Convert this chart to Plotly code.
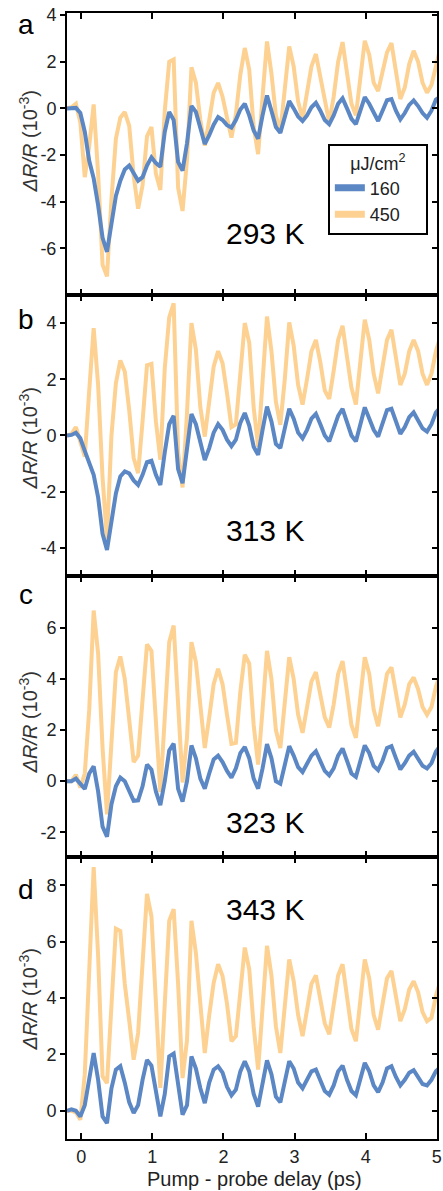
import plotly.graph_objects as go

# pump-probe delay grid (ps)
delay = [-0.2, -0.1375, -0.075, -0.0125, 0.05, 0.1125, 0.175, 0.2375, 0.3, 0.3625,
         0.425, 0.4875, 0.55, 0.6125, 0.675, 0.7375, 0.8, 0.8625, 0.925, 0.9875,
         1.05, 1.1125, 1.175, 1.2375, 1.3, 1.3625, 1.425, 1.4875, 1.55, 1.6125,
         1.675, 1.7375, 1.8, 1.8625, 1.925, 1.9875, 2.05, 2.1125, 2.175, 2.2375,
         2.3, 2.3625, 2.425, 2.4875, 2.55, 2.6125, 2.675, 2.7375, 2.8, 2.8625,
         2.925, 2.9875, 3.05, 3.1125, 3.175, 3.2375, 3.3, 3.3625, 3.425, 3.4875,
         3.55, 3.6125, 3.675, 3.7375, 3.8, 3.8625, 3.925, 3.9875, 4.05, 4.1125,
         4.175, 4.2375, 4.3, 4.3625, 4.425, 4.4875, 4.55, 4.6125, 4.675, 4.7375,
         4.8, 4.8625, 4.925, 4.9875, 5.05]

blue_293 = [0.0, 0.0, 0.02, -0.2, -1.0, -2.25, -3.0, -4.15, -5.55, -6.15,
            -4.9, -3.75, -3.1, -2.62, -2.45, -2.78, -3.1, -2.95, -2.45, -2.1,
            -2.35, -2.5, -1.0, -0.15, -0.5, -2.3, -2.67, -1.5, 0.1, -0.15,
            -0.85, -1.53, -1.15, -0.7, -0.37, -0.5, -0.72, -0.82, -0.5, -0.05,
            0.2, -0.3, -0.95, -1.3, -0.3, 0.55, -0.1, -0.8, -1.05, -0.3,
            0.31, 0.0, -0.35, -0.54, -0.3, 0.05, 0.24, -0.1, -0.5, -0.68,
            -0.3, 0.2, 0.43, 0.0, -0.45, -0.68, -0.1, 0.48, 0.2, -0.2,
            -0.54, -0.1, 0.35, 0.4, -0.1, -0.47, -0.2, 0.15, 0.34, 0.1,
            -0.2, -0.4, -0.1, 0.38, 0.5]
orange_293 = [0.0, 0.05, 0.2, -0.6, -2.95, -1.6, 0.17, -2.8, -6.7, -7.2,
              -3.9, -1.3, -0.4, -0.16, -0.75, -2.9, -4.3, -3.3, -1.2, -0.8,
              -2.8, -3.5, -0.1, 2.0, 2.1, -3.4, -4.4, -2.2, 1.76, 1.1,
              -0.5, -1.6, -0.5, 0.67, 1.09, 0.5, -0.4, -1.25, -0.25, 1.45,
              2.59, 1.66, -0.8, -1.96, 0.5, 2.87, 1.5, -0.3, -1.0, 0.8,
              2.66, 1.8, 0.3, -0.45, 0.6, 1.8, 2.33, 1.3, 0.2, -0.6,
              0.5, 2.0, 2.84, 1.5, 0.2, -0.3, 1.5, 2.9, 2.3, 1.1,
              0.74, 1.6, 2.4, 2.8, 1.6, 0.4, 0.9, 1.9, 2.47, 2.0,
              1.1, 0.67, 1.0, 1.9, 2.6]

blue_313 = [0.0, 0.02, 0.1, -0.1, -0.55, -0.98, -1.4, -2.2, -3.5, -4.07,
            -3.0, -2.06, -1.46, -1.28, -1.35, -1.6, -1.76, -1.4, -0.95, -0.9,
            -1.4, -1.76, -0.6, 0.4, 0.7, -1.2, -1.7, -0.5, 0.76, 0.4,
            -0.3, -0.87, -0.45, 0.1, 0.4, 0.2, -0.15, -0.38, -0.15, 0.45,
            0.8, 0.35, -0.4, -0.69, 0.2, 1.03, 0.5, -0.3, -0.45, 0.3,
            0.95, 0.6, 0.1, -0.1, 0.2, 0.6, 0.77, 0.4, 0.0, -0.21,
            0.2, 0.7, 0.95, 0.5, 0.0, -0.21, 0.4, 1.0, 0.6, 0.2,
            -0.04, 0.4, 0.9, 0.95, 0.5, 0.06, 0.3, 0.65, 0.82, 0.55,
            0.25, 0.14, 0.4, 0.82, 1.0]
orange_313 = [0.0, 0.05, 0.3, -0.2, -0.75, 1.6, 3.82, 1.8, -1.5, -3.7,
              0.0, 1.86, 2.67, 2.28, 0.9, -0.8, -1.34, 0.5, 2.5, 2.55,
              0.5, -0.86, 2.4, 4.2, 4.7, -0.6, -1.85, 0.8, 4.0, 3.05,
              1.0, -0.04, 1.3, 2.45, 3.0, 2.57, 1.5, 0.3, 0.4, 2.2,
              4.0, 3.3, 1.0, -0.4, 2.0, 4.23, 3.0, 1.2, 0.38, 2.0,
              4.02, 3.2, 1.8, 1.1, 2.0, 3.0, 3.4, 2.6, 1.6, 1.3,
              2.3, 3.4, 3.9, 2.8, 1.7, 1.1, 2.6, 4.12, 3.4, 2.2,
              1.5, 2.4, 3.4, 3.76, 2.8, 1.8, 2.2, 3.0, 3.4, 3.0,
              2.2, 1.8, 2.2, 3.0, 3.5]

blue_323 = [0.0, 0.0, 0.1, -0.1, -0.3, 0.3, 0.58, -0.4, -1.78, -2.17,
            -0.9, -0.2, 0.14, 0.0, -0.4, -0.77, -0.75, -0.2, 0.65, 0.45,
            -0.4, -0.94, 0.0, 1.2, 1.47, -0.3, -0.8, 0.0, 1.4, 0.9,
            0.1, -0.29, 0.3, 0.85, 1.0, 0.75, 0.4, 0.14, 0.5, 1.1,
            1.34, 0.9, 0.1, -0.29, 0.5, 1.45, 0.9, 0.0, -0.1, 0.6,
            1.37, 1.0, 0.55, 0.36, 0.7, 1.0, 1.17, 0.8, 0.4, 0.23,
            0.5, 1.0, 1.28, 0.8, 0.3, 0.17, 0.8, 1.4, 1.1, 0.6,
            0.43, 0.8, 1.3, 1.37, 0.9, 0.46, 0.7, 1.0, 1.15, 0.9,
            0.6, 0.5, 0.7, 1.15, 1.4]
orange_323 = [0.0, 0.0, 0.25, -0.25, 0.3, 2.8, 6.68, 5.0, 1.3, -1.3,
              1.5, 4.27, 4.88, 4.0, 2.4, 0.75, 1.0, 3.2, 5.35, 5.1,
              2.0, -0.42, 2.5, 5.44, 6.09, 3.0, -0.05, 1.7, 5.44, 4.66,
              3.0, 1.3, 2.5, 3.8, 4.4, 3.8, 2.6, 1.46, 1.5, 3.5,
              4.95, 4.6, 2.2, 0.65, 2.8, 5.1, 4.0, 2.0, 1.3, 3.0,
              4.85, 4.0, 2.6, 1.89, 3.0, 3.9, 4.27, 3.4, 2.5, 2.1,
              3.0, 4.2, 4.7, 3.5, 2.2, 1.7, 3.2, 4.85, 4.2, 2.8,
              2.15, 3.3, 4.2, 4.45, 3.4, 2.5, 3.0, 3.8, 4.06, 3.6,
              2.9, 2.6, 2.9, 3.7, 4.2]

blue_343 = [0.0, 0.05, 0.0, -0.2, 0.2, 1.2, 2.05, 1.1, -0.2, -0.44,
            0.8, 1.46, 1.58, 1.0, 0.3, -0.08, 0.2, 1.1, 1.8, 1.6,
            0.6, -0.2, 0.6, 1.93, 2.03, 0.9, -0.14, 0.2, 1.93, 1.5,
            0.8, 0.27, 1.0, 1.46, 1.58, 1.35, 0.85, 0.55, 0.75, 1.4,
            1.76, 1.4, 0.6, 0.15, 0.9, 1.79, 1.3, 0.5, 0.3, 1.0,
            1.76, 1.5, 1.0, 0.8, 1.1, 1.4, 1.46, 1.1, 0.7, 0.57,
            0.9, 1.4, 1.6, 1.1, 0.7, 0.55, 1.1, 1.7, 1.4, 0.9,
            0.66, 1.0, 1.5, 1.58, 1.2, 0.9, 1.1, 1.35, 1.44, 1.2,
            0.95, 0.9, 1.1, 1.4, 1.55]
orange_343 = [0.0, 0.0, -0.05, -0.32, 1.3, 5.0, 8.64, 5.5, 1.22, 0.98,
              4.0, 6.46, 6.38, 4.5, 3.2, 1.81, 2.76, 5.5, 7.69, 6.9,
              3.5, 0.81, 3.8, 6.74, 7.15, 4.5, 1.16, 2.5, 6.74, 5.6,
              3.8, 2.05, 3.4, 4.54, 5.2, 4.78, 3.8, 2.47, 2.65, 4.3,
              5.79, 5.02, 3.0, 1.46, 3.8, 5.85, 4.8, 3.0, 2.05, 3.8,
              5.37, 4.6, 3.4, 2.65, 3.6, 4.5, 4.8, 4.0, 3.1, 2.72,
              3.8, 4.8, 5.2, 4.0, 2.9, 2.47, 4.0, 5.37, 4.7, 3.4,
              2.88, 3.8, 4.7, 4.96, 4.0, 3.18, 3.6, 4.3, 4.6, 4.2,
              3.5, 3.18, 3.3, 4.07, 4.6]

panel_letters = ["a", "b", "c", "d"]
temperatures = ["293 K", "313 K", "323 K", "343 K"]
fluences = ["160", "450"]
blue_series = [blue_293, blue_313, blue_323, blue_343]
orange_series = [orange_293, orange_313, orange_323, orange_343]
y_ranges = [[-8.0, 4.09], [-5.0, 5.0], [-2.97, 8.03], [-1.0, 9.0]]
y_ticks = [[4, 2, 0, -2, -4, -6], [4, 2, 0, -2, -4], [6, 4, 2, 0, -2], [8, 6, 4, 2, 0]]
x_ticks = [0, 1, 2, 3, 4, 5]

BLUE = "rgb(91,135,196)"
ORANGE = "rgb(253,209,146)"
FONT = "Arial, Liberation Sans, sans-serif"

# panel domains (top to bottom)
domains = [[0.7496, 1.0], [0.5, 0.7496], [0.2504, 0.5], [0.0, 0.2504]]

fig = go.Figure()

for k in range(4):
    xs = "x" if k == 0 else f"x{k+1}"
    ys = "y" if k == 0 else f"y{k+1}"
    fig.add_trace(go.Scatter(x=delay, y=orange_series[k], mode="lines",
                             line=dict(color=ORANGE, width=4),
                             xaxis=xs, yaxis=ys, showlegend=False, hoverinfo="skip"))
    fig.add_trace(go.Scatter(x=delay, y=blue_series[k], mode="lines",
                             line=dict(color=BLUE, width=4),
                             xaxis=xs, yaxis=ys, showlegend=False, hoverinfo="skip"))
    # overlay axis for right-hand inside ticks
    fig.add_trace(go.Scatter(x=[None], y=[None], xaxis=xs, yaxis=f"y{k+5}",
                             showlegend=False, hoverinfo="skip"))

# legend entries
pad = "\u00a0\u00a0\u00a0\u00a0"
fig.add_trace(go.Scatter(x=[None], y=[None], mode="lines", name=fluences[0] + pad,
                         line=dict(color=BLUE, width=7), xaxis="x", yaxis="y"))
fig.add_trace(go.Scatter(x=[None], y=[None], mode="lines", name=fluences[1] + pad,
                         line=dict(color=ORANGE, width=7), xaxis="x", yaxis="y"))

layout = dict(
    width=443, height=1191,
    margin=dict(l=67, r=1, t=13, b=52),
    plot_bgcolor="white", paper_bgcolor="white",
    font=dict(family=FONT, size=18, color="#222"),
    legend=dict(x=0.705, y=0.8835, xanchor="left", yanchor="top",
                bordercolor="black", borderwidth=2, bgcolor="white",
                font=dict(size=18, color="#222"),
                title=dict(text="μJ/cm<sup>2</sup>", font=dict(size=18, color="#222"), side="top center"),
                itemwidth=30, tracegroupgap=0),
)

for k in range(4):
    xname = "xaxis" if k == 0 else f"xaxis{k+1}"
    yname = "yaxis" if k == 0 else f"yaxis{k+1}"
    ys = "y" if k == 0 else f"y{k+1}"
    xs = "x" if k == 0 else f"x{k+1}"
    layout[xname] = dict(domain=[0, 1], anchor=ys, range=[-0.2, 5.003],
                         tickvals=x_ticks, ticktext=[str(v) for v in x_ticks],
                         ticks="inside", ticklen=6, tickwidth=2, tickcolor="black",
                         showline=True, linewidth=2, linecolor="black", mirror="ticks",
                         showgrid=False, zeroline=False,
                         showticklabels=(k == 3), ticklabeloverflow="allow",
                         tickfont=dict(size=18, color="#222"))
    layout[yname] = dict(domain=domains[k], anchor=xs, range=y_ranges[k],
                         tickvals=y_ticks[k], ticktext=[str(v) for v in y_ticks[k]],
                         ticks="outside", ticklen=5, tickwidth=2, tickcolor="black",
                         showline=True, linewidth=2, linecolor="black", mirror=True,
                         showgrid=False, zeroline=False,
                         tickfont=dict(size=18, color="#222"))
    layout[f"yaxis{k+5}"] = dict(overlaying=ys, side="right", anchor=xs, range=y_ranges[k],
                                 tickvals=y_ticks[k], ticks="inside", ticklen=5, tickwidth=2,
                                 tickcolor="black", showticklabels=False, showline=False,
                                 showgrid=False, zeroline=False)

fig.update_layout(**layout)

def py_to_paper(py):
    return (1139 - py) / 1126.0

letter_py = [24, 319, 594, 889]
temp_py = [234, 530, 822, 909]
title_py = [142, 439, 723, 1000]
for k in range(4):
    fig.add_annotation(text=panel_letters[k], xref="paper", yref="paper",
                       x=(25 - 67) / 375, y=py_to_paper(letter_py[k]),
                       xanchor="center", yanchor="middle", showarrow=False,
                       font=dict(family=FONT, size=28, color="black"))
    fig.add_annotation(text=temperatures[k], xref="paper", yref="paper",
                       x=(267.5 - 67) / 375, y=py_to_paper(temp_py[k]),
                       xanchor="center", yanchor="middle", showarrow=False,
                       font=dict(family=FONT, size=30, color="black"))
    fig.add_annotation(text="<i>ΔR/R</i> (10<sup>-3</sup>)", xref="paper", yref="paper",
                       x=(27 - 67) / 375, y=py_to_paper(title_py[k]), textangle=-90,
                       xanchor="center", yanchor="middle", showarrow=False,
                       font=dict(family=FONT, size=20, color="#333"))

fig.add_annotation(text="Pump - probe delay (ps)", xref="paper", yref="paper",
                   x=(257 - 67) / 375, y=py_to_paper(1179),
                   xanchor="center", yanchor="middle", showarrow=False,
                   font=dict(family=FONT, size=20, color="#222"))

fig.write_html("out.html", config={"displayModeBar": False},
               post_script="document.body.style.margin='0px';")
